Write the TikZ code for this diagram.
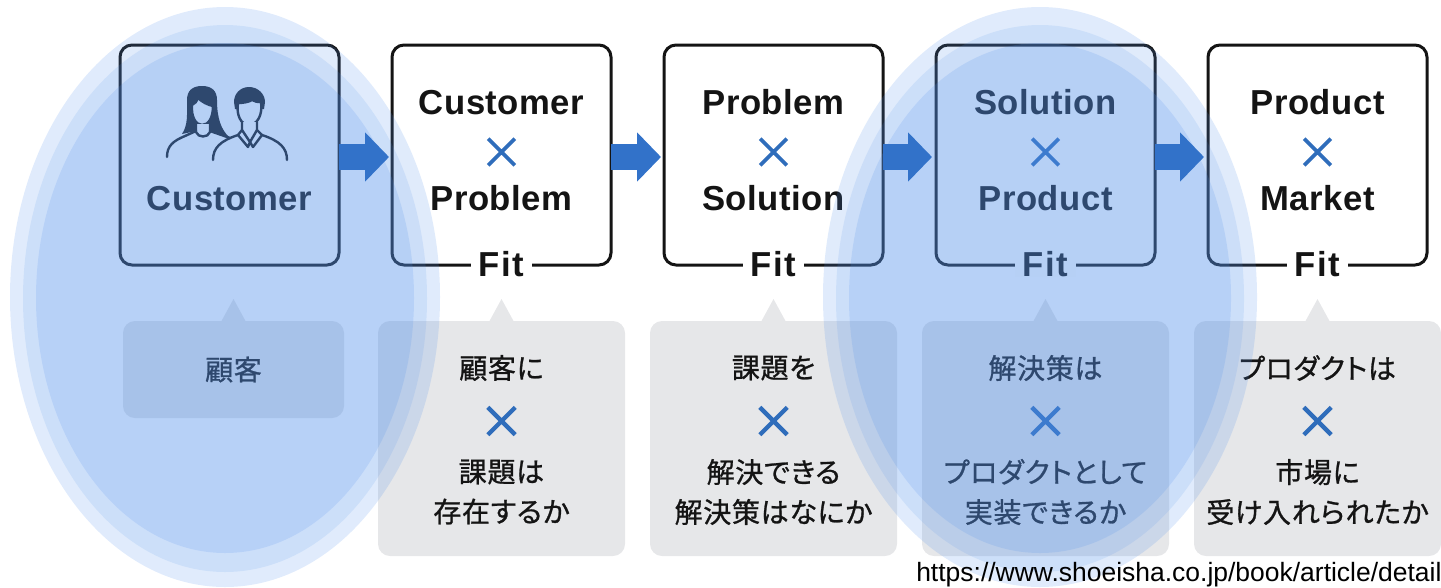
\documentclass[tikz,border=0pt]{standalone}
\usepackage{fontspec}
\setmainfont{Liberation Sans}
\newfontfamily\cjk[FakeBold=0.9, RawFeature={+palt}, LetterSpace=2.5]{Noto Sans CJK JP}
\usepackage{xcolor}
\usepackage{tikz}
\usetikzlibrary{arrows.meta, positioning, shapes.misc}

\definecolor{inkblack}{HTML}{141414}
\definecolor{crossblue}{HTML}{2F6DBB}
\definecolor{arrowblue}{HTML}{3272C9}
\definecolor{haloblue}{RGB}{84,146,236}
\definecolor{tailgray}{HTML}{E6E7E9}

\begin{document}
\begin{tikzpicture}[
		x=0.75pt, y=-0.75pt,
		node distance=39.75pt and 39.75pt,
		every node/.style={text=inkblack},
		fitbox/.style={rectangle, draw=inkblack, line width=2.25pt, rounded corners=9pt, minimum width=164.25pt, minimum height=165pt, outer sep=0pt, fill=white},
		fitlabel/.style={fill=white, font=\fontsize{26}{30}\selectfont\bfseries\addfontfeature{LetterSpace=5}, inner xsep=6pt, inner ysep=0pt},
		term/.style={font=\fontsize{26}{30}\selectfont\bfseries\addfontfeature{LetterSpace=1.5}, anchor=base, inner sep=0pt},
		times/.style={cross out, draw=crossblue, line width=2.8pt, minimum size=20pt, inner sep=0pt, outer sep=0pt},
		tail/.style={rectangle, fill=tailgray, rounded corners=9pt, minimum width=185.25pt, minimum height=176.25pt, outer sep=0pt},
		ask/.style={font=\cjk\fontsize{21}{30}\selectfont, align=center, inner sep=0pt},
		flow/.style={-{Triangle[length=18pt, width=36pt]}, line width=19.5pt, draw=arrowblue},
		icon/.style={draw=inkblack, line width=1.8pt, line cap=round, line join=round}
		]
		\useasboundingbox (0,0) rectangle (1441,587);
		
		% Boxes
		\node[fitbox] (cust) at (229.5,155) {};
		\node[fitbox, right=of cust] (custprob) {};
		\node[fitbox, right=of custprob] (probsol) {};
		\node[fitbox, right=of probsol] (solprod) {};
		\node[fitbox, right=of solprod] (prodmark) {};
		
		% Box texts
		\node[term] (custname) at ([yshift=-41.25pt]cust.center) {Customer};
		
		\node[term] (custprobtop) at ([yshift=30.75pt]custprob.center) {Customer};
		\node[times] (custprobx) at ([yshift=2.25pt]custprob.center) {};
		\node[term] (custprobend) at ([yshift=-41.25pt]custprob.center) {Problem};
		\node[fitlabel] (custprobfit) at ([yshift=0.75pt]custprob.south) {Fit};
		
		\node[term] (probsoltop) at ([yshift=30.75pt]probsol.center) {Problem};
		\node[times] (probsolx) at ([yshift=2.25pt]probsol.center) {};
		\node[term] (probsolend) at ([yshift=-41.25pt]probsol.center) {Solution};
		\node[fitlabel] (probsolfit) at ([yshift=0.75pt]probsol.south) {Fit};
		
		\node[term] (solprodtop) at ([yshift=30.75pt]solprod.center) {Solution};
		\node[times] (solprodx) at ([yshift=2.25pt]solprod.center) {};
		\node[term] (solprodend) at ([yshift=-41.25pt]solprod.center) {Product};
		\node[fitlabel] (solprodfit) at ([yshift=0.75pt]solprod.south) {Fit};
		
		\node[term] (prodmarktop) at ([yshift=30.75pt]prodmark.center) {Product};
		\node[times] (prodmarkx) at ([yshift=2.25pt]prodmark.center) {};
		\node[term] (prodmarkend) at ([yshift=-41.25pt]prodmark.center) {Market};
		\node[fitlabel] (prodmarkfit) at ([yshift=0.75pt]prodmark.south) {Fit};
		
		% People icon
		\fill[inkblack] (202,86) .. controls (192,86) and (187,91) .. (187,100) .. controls (187,115) and (188,125) .. (182,134) -- (196,131) -- (203,136) -- (210,131) -- (230,138) .. controls (221,130) and (217,118) .. (217,100) .. controls (217,91) and (212,86) .. (202,86) -- cycle;
		\filldraw[icon, fill=white] (192,105) .. controls (195,104) and (197,101) .. (198,98) .. controls (202,102) and (208,105) .. (213,106) .. controls (213,117) and (209,125) .. (202,125) .. controls (196,125) and (191,117) .. (192,105) -- cycle;
		\filldraw[icon, fill=white] (196,124) -- (196,132) .. controls (198,138) and (208,138) .. (210,132) -- (210,124);
		\draw[icon] (167,157) .. controls (167,146) and (173,141) .. (185,136) -- (196,131);
		\draw[icon] (210,131) -- (230,138);
		\fill[inkblack] (249,87) .. controls (240,87) and (234,94) .. (234,102) -- (235,109) -- (264,109) -- (265,102) .. controls (265,94) and (258,87) .. (249,87) -- cycle;
		\filldraw[icon, fill=white] (238,103) .. controls (243,103) and (249,102) .. (252,100) .. controls (255,102) and (258,102) .. (261,102) .. controls (263,115) and (257,125) .. (249,125) .. controls (241,125) and (236,115) .. (238,103) -- cycle;
		\filldraw[icon, fill=white] (242,122) -- (242,130) -- (238,135) -- (248,147) -- (250,142) -- (253,147) -- (262,135) -- (257,130) -- (257,122);
		\draw[icon] (242,130) -- (250,142) -- (257,130);
		\draw[icon] (213,160) .. controls (213,148) and (220,141) .. (238,135);
		\draw[icon] (287,160) .. controls (287,148) and (280,141) .. (262,135);
		
		% Callouts
		\node[tail, minimum width=165.75pt, minimum height=72.75pt, below=42pt of cust, xshift=3pt] (custnote) {\cjk\fontsize{21}{30}\selectfont 顧客};
		\node[tail, below=42pt of custprob] (custprobnote) {};
		\node[tail, below=42pt of probsol] (probsolnote) {};
		\node[tail, below=42pt of solprod] (solprodnote) {};
		\node[tail, below=42pt of prodmark] (prodmarknote) {};
		
		\fill[tailgray] ([xshift=-9pt]custnote.north) -- ([yshift=16.5pt]custnote.north) -- ([xshift=9pt]custnote.north) -- cycle;
		\fill[tailgray] ([xshift=-9pt]custprobnote.north) -- ([yshift=16.5pt]custprobnote.north) -- ([xshift=9pt]custprobnote.north) -- cycle;
		\fill[tailgray] ([xshift=-9pt]probsolnote.north) -- ([yshift=16.5pt]probsolnote.north) -- ([xshift=9pt]probsolnote.north) -- cycle;
		\fill[tailgray] ([xshift=-9pt]solprodnote.north) -- ([yshift=16.5pt]solprodnote.north) -- ([xshift=9pt]solprodnote.north) -- cycle;
		\fill[tailgray] ([xshift=-9pt]prodmarknote.north) -- ([yshift=16.5pt]prodmarknote.north) -- ([xshift=9pt]prodmarknote.north) -- cycle;
		
		% Callout texts
		\node[ask] (custprobq) at ([yshift=-35.25pt]custprobnote.north) {顧客に};
		\node[times, minimum size=20.5pt, line width=3.2pt] (custprobqx) at ([yshift=-75pt]custprobnote.north) {};
		\node[ask] (custproba) at ([yshift=-128.25pt]custprobnote.north) {課題は\\存在するか};
		
		\node[ask] (probsolq) at ([yshift=-35.25pt]probsolnote.north) {課題を};
		\node[times, minimum size=20.5pt, line width=3.2pt] (probsolqx) at ([yshift=-75pt]probsolnote.north) {};
		\node[ask] (probsola) at ([yshift=-128.25pt]probsolnote.north) {解決できる\\解決策はなにか};
		
		\node[ask] (solprodq) at ([yshift=-35.25pt]solprodnote.north) {解決策は};
		\node[times, minimum size=20.5pt, line width=3.2pt] (solprodqx) at ([yshift=-75pt]solprodnote.north) {};
		\node[ask] (solproda) at ([yshift=-128.25pt]solprodnote.north) {プロダクトとして\\実装できるか};
		
		\node[ask] (prodmarkq) at ([yshift=-35.25pt]prodmarknote.north) {プロダクトは};
		\node[times, minimum size=20.5pt, line width=3.2pt] (prodmarkqx) at ([yshift=-75pt]prodmarknote.north) {};
		\node[ask] (prodmarka) at ([yshift=-128.25pt]prodmarknote.north) {市場に\\受け入れられたか};
		
		% Highlights
		\fill[haloblue, fill opacity=0.18] (225,297) ellipse (215 and 290);
		\fill[haloblue, fill opacity=0.14] (225,298.5) ellipse (202 and 273.5);
		\fill[haloblue, fill opacity=0.18] (225,298) ellipse (189 and 255);
		\fill[haloblue, fill opacity=0.18] (1040,297) ellipse (217 and 290);
		\fill[haloblue, fill opacity=0.14] (1040,298.5) ellipse (204 and 273.5);
		\fill[haloblue, fill opacity=0.18] (1040,298) ellipse (191 and 255);
		
		% Arrows
		\draw[flow] ([yshift=-1.5pt]cust.east) -- ([xshift=-2.25pt, yshift=-1.5pt]custprob.west);
		\draw[flow] ([yshift=-1.5pt]custprob.east) -- ([xshift=-2.25pt, yshift=-1.5pt]probsol.west);
		\draw[flow] ([yshift=-1.5pt]probsol.east) -- ([xshift=-3pt, yshift=-1.5pt]solprod.west);
		\draw[flow] ([yshift=-1.5pt]solprod.east) -- ([xshift=-3pt, yshift=-1.5pt]prodmark.west);
		
		% Source
		\node[anchor=base west, inner sep=0pt, text=black, font=\fontsize{19.85}{22}\selectfont] (source) at (916,581) {https://www.shoeisha.co.jp/book/article/detail};
		
	\end{tikzpicture}
\end{document}
